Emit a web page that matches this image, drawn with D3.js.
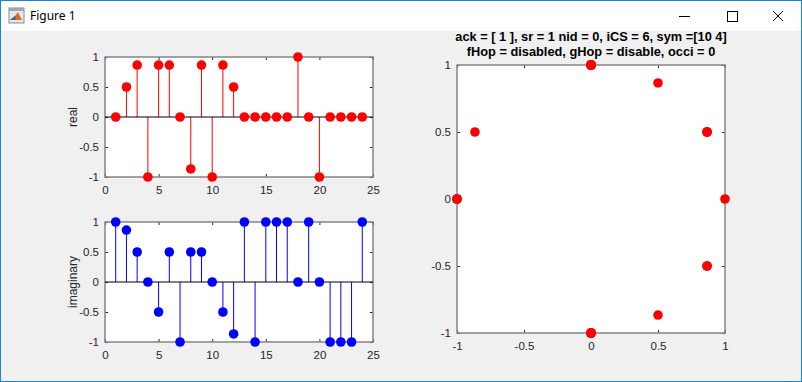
<!DOCTYPE html>
<html>
<head>
<meta charset="utf-8">
<script src="https://cdn.jsdelivr.net/npm/d3@7"></script>
<style>
  html, body { margin: 0; padding: 0; background: #f0f0f0; }
  svg { display: block; font-family: "Liberation Sans", Arial, sans-serif; }
</style>
</head>
<body>
<script>
// sample index
var idx = d3.range(1, 25);
// real part of each symbol
var realVals = [0, 0.5, 0.866, -1, 0.866, 0.866, 0, -0.866, 0.866, -1, 0.866, 0.5,
                0, 0, 0, 0, 0, 1, 0, -1, 0, 0, 0, 0];
// imaginary part of each symbol
var imagVals = [1, 0.866, 0.5, 0, -0.5, 0.5, -1, 0.5, 0.5, 0, -0.5, -0.866,
                1, -1, 1, 1, 1, 0, 1, 0, -1, -1, -1, 1];
var xTicks = [0, 5, 10, 15, 20, 25];
var yTicks = [-1, -0.5, 0, 0.5, 1];
var cTicks = [-1, -0.5, 0, 0.5, 1];
var titleLines = ["ack = [ 1 ], sr = 1 nid = 0, iCS = 6, sym =[10 4]",
                  "fHop = disabled, gHop = disable, occi = 0"];

var W = 802, H = 382;
var svg = d3.select("body").append("svg").attr("width", W).attr("height", H);

// window chrome
svg.append("rect").attr("x", 0).attr("y", 0).attr("width", W).attr("height", H).attr("fill", "#f0f0f0");
svg.append("rect").attr("x", 0).attr("y", 0).attr("width", W).attr("height", 31).attr("fill", "#ffffff");
svg.append("rect").attr("x", 0.5).attr("y", 0.5).attr("width", W - 1).attr("height", H - 1)
    .attr("fill", "none").attr("stroke", "#1883d7").attr("stroke-width", 1);

// matlab icon (rough)
var ic = svg.append("g").attr("transform", "translate(9,8)");
ic.append("rect").attr("x", 0).attr("y", 0).attr("width", 15).attr("height", 15).attr("fill", "#e8e8e8").attr("stroke", "#8a8a8a");
ic.append("rect").attr("x", 0).attr("y", 0).attr("width", 15).attr("height", 3).attr("fill", "#9aa7b8");
ic.append("path").attr("d", "M1,12 L6,8 L9,4 L13,12 Z").attr("fill", "#e06a1a");
ic.append("path").attr("d", "M1,12 L6,8 L7,12 Z").attr("fill", "#2a6fb0");
svg.append("text").attr("x", 30).attr("y", 20).attr("font-size", 12).attr("fill", "#000")
    .attr("font-family", "'Noto Sans', 'DejaVu Sans', sans-serif").text("Figure 1");

// min / max / close
svg.append("line").attr("x1", 679).attr("x2", 690).attr("y1", 16.5).attr("y2", 16.5).attr("stroke", "#000");
svg.append("rect").attr("x", 727.5).attr("y", 11.5).attr("width", 10).attr("height", 10).attr("fill", "none").attr("stroke", "#000");
svg.append("path").attr("d", "M773,11 L783,21 M783,11 L773,21").attr("stroke", "#000").attr("stroke-width", 1);

var boxColor = "#858585", tickColor = "#262626", txtColor = "#262626";
// matlab style labels: plain hyphen minus
var fmt = function (d) { return String(d); };

function drawAxes(g, x, y, xt, yt, ylab) {
  var x0 = x.range()[0], x1 = x.range()[1], y0 = y.range()[0], y1 = y.range()[1];
  g.append("rect").attr("x", x0).attr("y", y1).attr("width", x1 - x0).attr("height", y0 - y1).attr("fill", "#fff");
  g.append("g").attr("transform", "translate(0," + y0 + ")")
      .call(d3.axisBottom(x).tickValues(xt).tickSize(-3).tickPadding(9).tickFormat(fmt));
  g.append("g").attr("transform", "translate(" + x0 + ",0)")
      .call(d3.axisLeft(y).tickValues(yt).tickSize(-3).tickPadding(6).tickFormat(fmt));
  g.append("g").attr("transform", "translate(0," + y1 + ")")
      .call(d3.axisTop(x).tickValues(xt).tickSize(-3).tickFormat(""));
  g.append("g").attr("transform", "translate(" + x1 + ",0)")
      .call(d3.axisRight(y).tickValues(yt).tickSize(-3).tickFormat(""));
  g.selectAll(".domain").remove();
  g.selectAll(".tick line").attr("stroke", tickColor);
  g.selectAll(".tick text").attr("fill", txtColor).attr("font-size", 11.5);
  g.append("rect").attr("x", x0).attr("y", y1).attr("width", x1 - x0).attr("height", y0 - y1)
      .attr("fill", "none").attr("stroke", boxColor).attr("stroke-width", 1.5);
  if (ylab) {
    g.append("text").attr("transform", "translate(" + 77 + "," + ((y0 + y1) / 2) + ") rotate(-90)")
        .attr("text-anchor", "middle").attr("font-size", 12).attr("fill", txtColor).text(ylab);
  }
}

function drawStem(g, x, y, vals, color) {
  var data = idx.map(function (d, i) { return {n: d, v: vals[i]}; });
  g.selectAll("line.stem").data(data).enter().append("line").attr("class", "stem")
      .attr("x1", function (d) { return x(d.n); }).attr("x2", function (d) { return x(d.n); })
      .attr("y1", y(0)).attr("y2", function (d) { return y(d.v); })
      .attr("stroke", color).attr("stroke-width", 1);
  g.append("line").attr("x1", x.range()[0]).attr("x2", x.range()[1])
      .attr("y1", y(0)).attr("y2", y(0)).attr("stroke", "#000").attr("stroke-width", 1);
  g.selectAll("circle").data(data).enter().append("circle")
      .attr("cx", function (d) { return x(d.n); }).attr("cy", function (d) { return y(d.v); })
      .attr("r", 4.8).attr("fill", color);
}

// top-left: real
var x1s = d3.scaleLinear().domain([0, 25]).range([105, 373]);
var y1s = d3.scaleLinear().domain([-1, 1]).range([177, 57]);
var g1 = svg.append("g");
drawAxes(g1, x1s, y1s, xTicks, yTicks, "real");
drawStem(g1, x1s, y1s, realVals, "#ff0000");

// bottom-left: imaginary
var x2s = d3.scaleLinear().domain([0, 25]).range([105, 373]);
var y2s = d3.scaleLinear().domain([-1, 1]).range([342, 222]);
var g2 = svg.append("g");
drawAxes(g2, x2s, y2s, xTicks, yTicks, "imaginary");
drawStem(g2, x2s, y2s, imagVals, "#0000ff");

// right: constellation
var x3s = d3.scaleLinear().domain([-1, 1]).range([457, 725]);
var y3s = d3.scaleLinear().domain([-1, 1]).range([333, 65]);
var g3 = svg.append("g");
drawAxes(g3, x3s, y3s, cTicks, cTicks, null);
g3.selectAll("circle").data(idx.map(function (d, i) { return [realVals[i], imagVals[i]]; }))
    .enter().append("circle")
    .attr("cx", function (d) { return x3s(d[0]); }).attr("cy", function (d) { return y3s(d[1]); })
    .attr("r", 4.8).attr("fill", "#ff0000");

svg.append("g").selectAll("text").data(titleLines).enter().append("text")
    .attr("x", 591).attr("y", function (d, i) { return 41 + i * 15; })
    .attr("text-anchor", "middle").attr("font-size", 12.8).attr("font-weight", "bold")
    .attr("fill", "#000").text(function (d) { return d; });
</script>
</body>
</html>
